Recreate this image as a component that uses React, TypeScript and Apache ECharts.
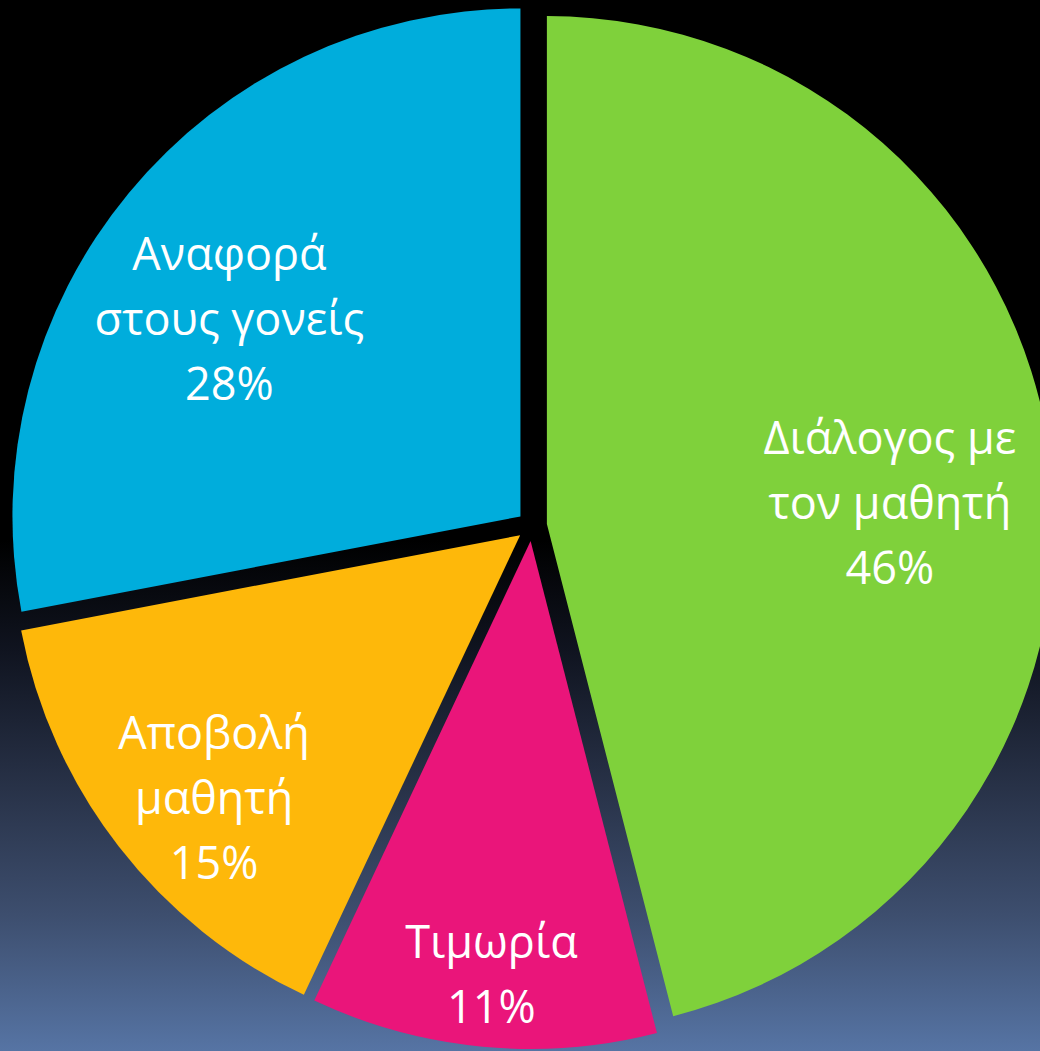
import React, { useEffect, useRef } from "react";
import * as echarts from "echarts";

// Data
const categories = ["Διάλογος με\nτον μαθητή", "Τιμωρία", "Αποβολή\nμαθητή", "Αναφορά\nστους γονείς"];
const values = [46, 11, 15, 28];

// Styles / layout
const colors = ["#7FD13B", "#EA157A", "#FEB80A", "#00ADDC"];
const labelOffsets = [
  [88, 10],
  [-15, 176],
  [-103, 104],
  [-93, -35],
];

export default function App() {
  const ref = useRef<HTMLDivElement>(null);
  useEffect(() => {
    if (!ref.current) return;
    const chart = echarts.init(ref.current, undefined, { renderer: "svg" });
    chart.setOption({
      animation: false,
      series: [
        {
          type: "pie",
          center: [532, 526],
          radius: 508,
          startAngle: 90,
          clockwise: true,
          selectedMode: "multiple",
          selectedOffset: 15,
          avoidLabelOverlap: false,
          emphasis: { disabled: true },
          itemStyle: { borderWidth: 0 },
          label: {
            show: true,
            position: "inside",
            color: "#ffffff",
            fontFamily: "'Open Sans', 'Noto Sans', sans-serif",
            fontSize: 45,
            lineHeight: 65,
            align: "center",
            formatter: (p: any) => `${p.name}\n${Math.round(p.percent)}%`,
          },
          labelLine: { show: false },
          labelLayout: (params: any) => ({
            dx: labelOffsets[params.dataIndex][0],
            dy: labelOffsets[params.dataIndex][1],
          }),
          data: categories.map((name, i) => ({
            name,
            value: values[i],
            selected: true,
            itemStyle: { color: colors[i] },
          })),
        },
      ],
    });
    return () => chart.dispose();
  }, []);
  return (
    <div
      ref={ref}
      style={{
        position: "absolute",
        left: 0,
        top: 0,
        width: 1040,
        height: 1051,
        background:
          "linear-gradient(to bottom, #000000 0%, #000000 51.4%, #101420 62%, #283248 75%, #3d4e6e 87%, #5674a4 100%)",
      }}
    />
  );
}
